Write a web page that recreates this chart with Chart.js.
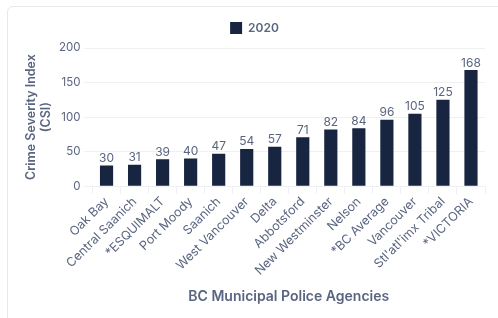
<!DOCTYPE html>
<html>
<head>
<meta charset="utf-8">
<script src="https://cdn.jsdelivr.net/npm/chart.js@4"></script>
<style>
  html, body { margin: 0; padding: 0; background: #fff; overflow: hidden; }
  .card {
    position: absolute; left: 7px; top: 6px;
    width: 500px; height: 320px;
    border: 1px solid #e6e8ec; border-radius: 6px;
    box-sizing: border-box;
  }
  .wrap { position: absolute; left: 0; top: 0; width: 490px; height: 312px; }
</style>
</head>
<body>
<div class="card">
  <div class="wrap"><canvas id="csiChart"></canvas></div>
</div>
<script>
// ==========================================
// Crime Severity Index - BC Municipal Police
// ==========================================

const agencies = [
  'Oak Bay', 'Central Saanich', '*ESQUIMALT', 'Port Moody', 'Saanich',
  'West Vancouver', 'Delta', 'Abbotsford', 'New Westminster', 'Nelson',
  '*BC Average', 'Vancouver', "Stl'atl'imx Tribal", '*VICTORIA'
];
const csi2020 = [30, 31, 39, 40, 47, 54, 57, 71, 82, 84, 96, 105, 125, 168];
const yTicks = [0, 50, 100, 150, 200];

const textColor = '#5a6580';
const barColor = '#172540';
const gridColor = '#eef0f2';

// Value labels above bars
const valueLabels = {
  id: 'valueLabels',
  afterDatasetsDraw(chart) {
    const ctx = chart.ctx;
    const meta = chart.getDatasetMeta(0);
    ctx.save();
    ctx.fillStyle = textColor;
    ctx.font = '12px Inter';
    ctx.textAlign = 'center';
    ctx.textBaseline = 'bottom';
    meta.data.forEach((bar, i) => {
      ctx.fillText(chart.data.datasets[0].data[i], bar.x, bar.y - 1);
    });
    ctx.restore();
  }
};

// A bit more room under the legend
const legendSpacing = {
  id: 'legendSpacing',
  beforeInit(chart) {
    const fit = chart.legend.fit;
    chart.legend.fit = function () {
      fit.call(this);
      this.height += 4;
    };
  }
};

new Chart(document.getElementById('csiChart'), {
  type: 'bar',
  data: {
    labels: agencies,
    datasets: [{
      label: '2020',
      data: csi2020,
      backgroundColor: barColor,
      borderColor: barColor,
      categoryPercentage: 1,
      barPercentage: 0.47
    }]
  },
  plugins: [valueLabels, legendSpacing],
  options: {
    responsive: true,
    maintainAspectRatio: false,
    animation: false,
    layout: { padding: { left: 16, right: 13, top: 5, bottom: 10 } },
    plugins: {
      legend: {
        display: true,
        labels: {
          color: textColor,
          font: { family: 'Inter', size: 12, weight: '600' },
          boxWidth: 12,
          boxHeight: 12
        }
      },
      tooltip: { enabled: false }
    },
    scales: {
      x: {
        grid: { color: gridColor, drawOnChartArea: false, drawTicks: true, tickLength: 8 },
        border: { display: false },
        ticks: {
          color: textColor,
          font: { family: 'Inter', size: 12.5 },
          maxRotation: 45,
          minRotation: 45,
          autoSkip: false,
          padding: 0
        },
        title: {
          display: true,
          text: 'BC Municipal Police Agencies',
          color: textColor,
          font: { family: 'Inter', size: 14, weight: '600' },
          padding: { top: 10 }
        }
      },
      y: {
        min: 0,
        max: 200,
        afterBuildTicks: (axis) => { axis.ticks = yTicks.map(v => ({ value: v })); },
        grid: { color: gridColor, drawTicks: true, tickLength: 8 },
        border: { display: false },
        ticks: {
          color: textColor,
          font: { family: 'Inter', size: 11.5 },
          padding: 4
        },
        title: {
          display: true,
          text: ['Crime Severity Index', '(CSI)'],
          color: textColor,
          font: { family: 'Inter', size: 12.5, weight: '600' },
          padding: { top: 0, bottom: 1 }
        }
      }
    }
  }
});
</script>
</body>
</html>
